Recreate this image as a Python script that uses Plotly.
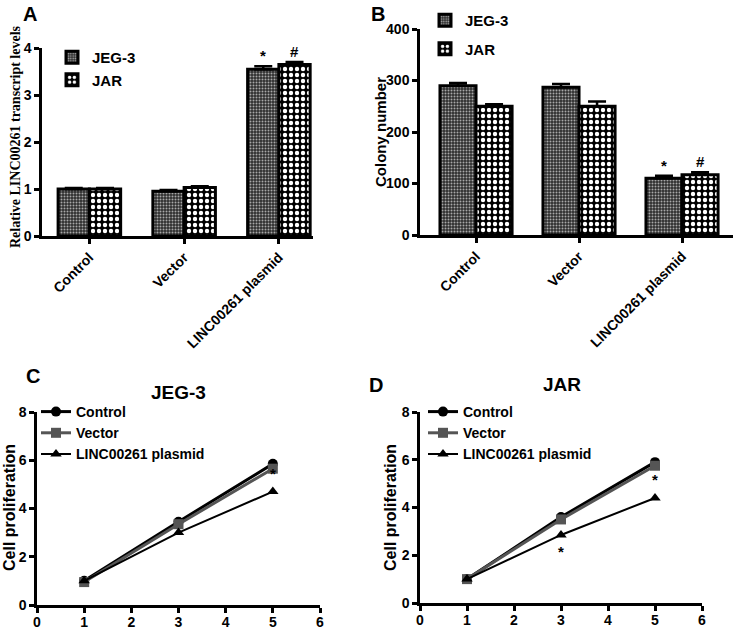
import plotly.graph_objects as go

# ---------------- data ----------------
groups = ["Control", "Vector", "LINC00261 plasmid"]
lines_a = ["JEG-3", "JAR"]

a_jeg3 = [1.0, 0.95, 3.55]
a_jeg3_err = [0.02, 0.03, 0.06]
a_jar = [1.0, 1.03, 3.65]
a_jar_err = [0.02, 0.03, 0.05]
a_ticks = [0, 1, 2, 3, 4]

b_jeg3 = [290, 287, 110]
b_jeg3_err = [5, 6, 5]
b_jar = [250, 250, 117]
b_jar_err = [4, 9, 5]
b_ticks = [0, 100, 200, 300, 400]

days = [1, 3, 5]
day_ticks = [0, 1, 2, 3, 4, 5, 6]
prolif_ticks = [0, 2, 4, 6, 8]
c_control = [1.0, 3.45, 5.85]
c_vector = [0.95, 3.35, 5.65]
c_linc = [1.0, 3.0, 4.7]

d_control = [1.0, 3.6, 5.9]
d_vector = [1.0, 3.5, 5.75]
d_linc = [1.0, 2.85, 4.4]

FONT = "Liberation Sans"
W, H = 740, 632


def bold(vals):
    return ["<b>%s</b>" % v for v in vals]


fig = go.Figure()

jeg_pattern = dict(shape=".", bgcolor="#2e2e2e", fgcolor="#a8a8a8", size=3, solidity=0.35, fillmode="replace")
jar_pattern = dict(shape=".", bgcolor="#000000", fgcolor="#ffffff", size=6, solidity=0.42, fillmode="replace")


def add_bars(xa, ya, jeg, jeg_err, jar, jar_err, legend, width):
    fig.add_trace(go.Bar(
        x=groups, y=jeg, name=lines_a[0], xaxis=xa, yaxis=ya, legend=legend, legendgroup=legend + "a",
        width=width, offset=-width,
        marker=dict(color="#2e2e2e", pattern=jeg_pattern, line=dict(color="black", width=3)),
        error_y=dict(type="data", symmetric=False, array=jeg_err, arrayminus=[0] * len(jeg_err),
                     color="black", thickness=2.5, width=9),
    ))
    fig.add_trace(go.Bar(
        x=groups, y=jar, name=lines_a[1], xaxis=xa, yaxis=ya, legend=legend, legendgroup=legend + "b",
        width=width, offset=0,
        marker=dict(color="black", pattern=jar_pattern, line=dict(color="black", width=3)),
        error_y=dict(type="data", symmetric=False, array=jar_err, arrayminus=[0] * len(jar_err),
                     color="black", thickness=2.5, width=9),
    ))


add_bars("x", "y", a_jeg3, a_jeg3_err, a_jar, a_jar_err, "legend", 0.33)
add_bars("x2", "y2", b_jeg3, b_jeg3_err, b_jar, b_jar_err, "legend2", 0.35)


def add_lines(xa, ya, ctrl, vec, linc, legend):
    fig.add_trace(go.Scatter(x=days, y=ctrl, name="Control", mode="lines+markers", xaxis=xa, yaxis=ya,
                             legend=legend, line=dict(color="black", width=3),
                             marker=dict(symbol="circle", size=10, color="black")))
    fig.add_trace(go.Scatter(x=days, y=vec, name="Vector", mode="lines+markers", xaxis=xa, yaxis=ya,
                             legend=legend, line=dict(color="#555555", width=3),
                             marker=dict(symbol="square", size=10, color="#555555")))
    fig.add_trace(go.Scatter(x=days, y=linc, name="LINC00261 plasmid", mode="lines+markers", xaxis=xa,
                             yaxis=ya, legend=legend, line=dict(color="black", width=2),
                             marker=dict(symbol="triangle-up", size=10, color="black")))


add_lines("x3", "y3", c_control, c_vector, c_linc, "legend3")
add_lines("x4", "y4", d_control, d_vector, d_linc, "legend4")

axis_common = dict(showline=True, linecolor="black", linewidth=2.5, ticks="outside", ticklen=5,
                   tickwidth=2.5, tickcolor="black", showgrid=False, zeroline=False, automargin=False,
                   tickfont=dict(family=FONT, size=14, color="black", weight="bold"))


def px_x(p):
    return p / W


def px_y(p):
    return 1 - p / H


fig.update_layout(
    width=W, height=H, autosize=False, margin=dict(l=0, r=0, t=0, b=0),
    paper_bgcolor="white", plot_bgcolor="white", showlegend=True,
    font=dict(family=FONT, color="black"),
    xaxis=dict(domain=[px_x(42), px_x(313)], anchor="y", type="category", range=[-0.5, 2.36],
               tickangle=-45, tickvals=groups, ticktext=bold(groups), **axis_common),
    yaxis=dict(domain=[px_y(236), px_y(48)], anchor="x", range=[0, 4], tickvals=a_ticks,
               ticktext=bold(a_ticks), **axis_common),
    xaxis2=dict(domain=[px_x(420), px_x(733)], anchor="y2", type="category", range=[-0.544, 2.495],
                tickangle=-45, tickvals=groups, ticktext=bold(groups), **axis_common),
    yaxis2=dict(domain=[px_y(235), px_y(29)], anchor="x2", range=[0, 400], tickvals=b_ticks,
                ticktext=bold(b_ticks), **axis_common),
    xaxis3=dict(domain=[px_x(37), px_x(320)], anchor="y3", range=[0, 6], tickvals=day_ticks,
                ticktext=bold(day_ticks), ticklabelstandoff=-3, **axis_common),
    yaxis3=dict(domain=[px_y(605), px_y(412)], anchor="x3", range=[0, 8], tickvals=prolif_ticks,
                ticktext=bold(prolif_ticks), **axis_common),
    xaxis4=dict(domain=[px_x(420), px_x(702)], anchor="y4", range=[0, 6], tickvals=day_ticks,
                ticktext=bold(day_ticks), ticklabelstandoff=-3, **axis_common),
    yaxis4=dict(domain=[px_y(603), px_y(412)], anchor="x4", range=[0, 8], tickvals=prolif_ticks,
                ticktext=bold(prolif_ticks), **axis_common),
)

leg_font = dict(family=FONT, size=15, color="black", weight="bold")
leg_font_s = dict(family=FONT, size=14, color="black", weight="bold")
fig.update_layout(
    legend=dict(x=px_x(52), y=px_y(41), xanchor="left", yanchor="top", bgcolor="rgba(0,0,0,0)",
                font=leg_font, tracegroupgap=0, itemwidth=30),
    legend2=dict(x=px_x(425), y=px_y(4), xanchor="left", yanchor="top", bgcolor="rgba(0,0,0,0)",
                 font=leg_font, tracegroupgap=6, itemwidth=30),
    legend3=dict(x=px_x(36), y=px_y(396), xanchor="left", yanchor="top", bgcolor="rgba(0,0,0,0)",
                 font=leg_font_s, tracegroupgap=0, itemwidth=30),
    legend4=dict(x=px_x(423), y=px_y(396), xanchor="left", yanchor="top", bgcolor="rgba(0,0,0,0)",
                 font=leg_font_s, tracegroupgap=0, itemwidth=30),
)

ann = []
# panel letters
for txt, x, y in [("A", 30, 14), ("B", 378, 14), ("C", 33, 376), ("D", 376, 385)]:
    ann.append(dict(text=txt, x=px_x(x), y=px_y(y), xref="paper", yref="paper", showarrow=False,
                    xanchor="center", yanchor="middle",
                    font=dict(family=FONT, size=20, color="black", weight="bold")))
# panel titles
ann.append(dict(text="JEG-3", x=px_x(178), y=px_y(392), xref="paper", yref="paper", showarrow=False,
                xanchor="center", yanchor="middle",
                font=dict(family=FONT, size=19, color="black", weight="bold")))
ann.append(dict(text="JAR", x=px_x(562), y=px_y(384), xref="paper", yref="paper", showarrow=False,
                xanchor="center", yanchor="middle",
                font=dict(family=FONT, size=19, color="black", weight="bold")))
# y axis titles
ytitle = [("Relative LINC00261 transcript levels", 15, 137, "Liberation Serif", 14),
          ("Colony number", 380, 132, FONT, 15),
          ("Cell proliferation", 10, 508, FONT, 16),
          ("Cell proliferation", 391, 508, FONT, 16)]
for txt, x, y, fam, sz in ytitle:
    ann.append(dict(text=txt, x=px_x(x), y=px_y(y), xref="paper", yref="paper", showarrow=False,
                    textangle=-90, xanchor="center", yanchor="middle",
                    font=dict(family=fam, size=sz, color="black", weight="bold")))

star_font = dict(family=FONT, size=15, color="black", weight="bold")
# significance marks on bars
ann.append(dict(text="*", x=2 - 0.165, y=a_jeg3[2] + a_jeg3_err[2], xref="x", yref="y", showarrow=False,
                yanchor="bottom", font=star_font))
ann.append(dict(text="#", x=2 + 0.165, y=a_jar[2] + a_jar_err[2], xref="x", yref="y", showarrow=False,
                yanchor="bottom", font=star_font))
ann.append(dict(text="*", x=2 - 0.175, y=b_jeg3[2] + b_jeg3_err[2], xref="x2", yref="y2", showarrow=False,
                yanchor="bottom", font=star_font))
ann.append(dict(text="#", x=2 + 0.175, y=b_jar[2] + b_jar_err[2], xref="x2", yref="y2", showarrow=False,
                yanchor="bottom", font=star_font))
# significance marks on lines
ann.append(dict(text="*", x=days[2], y=c_linc[2], xref="x3", yref="y3", showarrow=False, yanchor="bottom",
                yshift=8, font=star_font))
ann.append(dict(text="*", x=days[2], y=d_linc[2], xref="x4", yref="y4", showarrow=False, yanchor="bottom",
                yshift=8, font=star_font))
ann.append(dict(text="*", x=days[1], y=d_linc[1], xref="x4", yref="y4", showarrow=False, yanchor="top",
                yshift=-6, font=star_font))

fig.update_layout(annotations=ann)

fig.write_html("out.html", config={"displayModeBar": False},
               post_script="document.body.style.margin='0';document.body.style.overflow='hidden';")
